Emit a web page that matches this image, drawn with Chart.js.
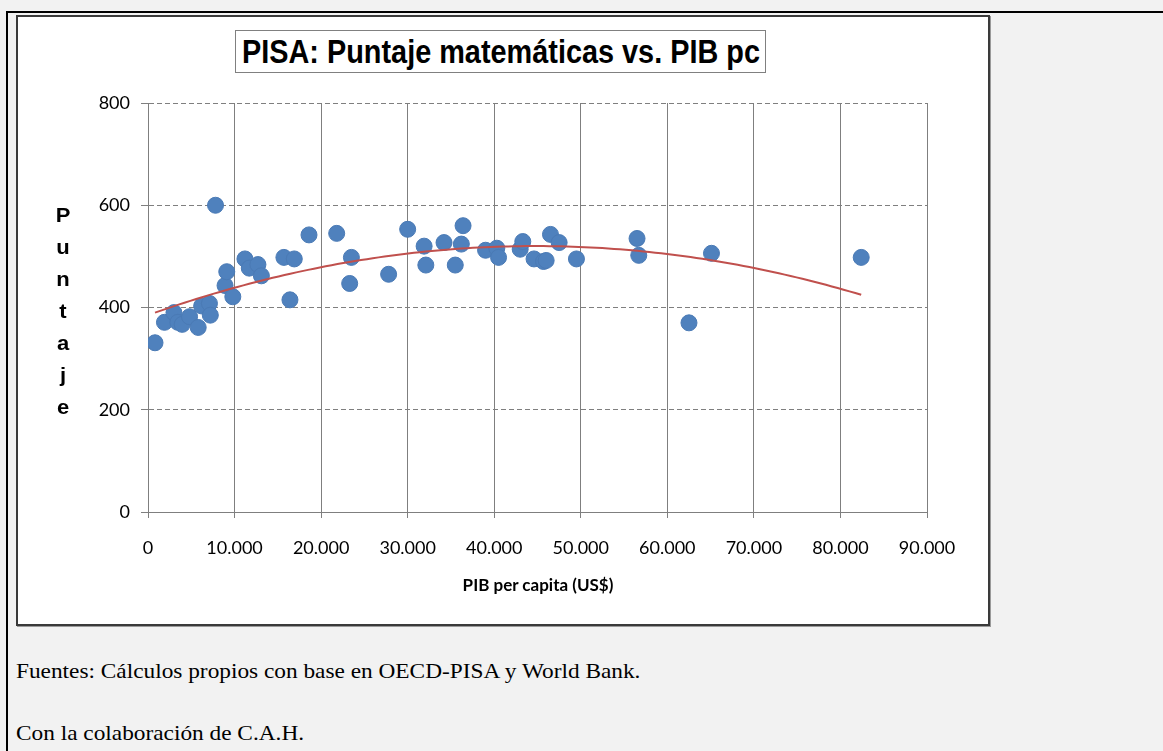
<!DOCTYPE html>
<html>
<head>
<meta charset="utf-8">
<script src="https://cdn.jsdelivr.net/npm/chart.js@4.4.1/dist/chart.umd.min.js"></script>
<style>
  html, body { margin: 0; padding: 0; }
  body { width: 1163px; height: 751px; background: #f2f2f2; position: relative; overflow: hidden; }
  #topline { position: absolute; left: 6px; top: 11px; width: 1157px; height: 2px; background: #000; }
  #leftline { position: absolute; left: 6px; top: 11px; width: 2px; height: 740px; background: #000; }
  #box { position: absolute; left: 16px; top: 15px; width: 970px; height: 607px; background: #fff;
         border: 2px solid #3a3a3a; box-shadow: 1px 1px 0 #9a9a9a; }
  #chartwrap { position: absolute; left: 0; top: 0; width: 970px; height: 607px; }
  #title { position: absolute; left: 217px; top: 13px; width: 531px; height: 43px; border: 1px solid #808080;
           box-sizing: border-box; background: #fff; }
  #titletext { position: absolute; left: 50%; top: 0; height: 41px; line-height: 41px;
           font-family: "Liberation Sans", Arial, sans-serif; font-weight: bold; font-size: 33px; color: #000;
           white-space: nowrap; transform-origin: 50% 50%; transform: translateX(-50%); }
  #ytitle { position: absolute; left: 32px; top: 182px; width: 26px; text-align: center;
            font-family: "Liberation Sans", Arial, sans-serif; font-weight: bold; font-size: 20px;
            line-height: 32px; color: #000; transform: scaleX(1.1); }
  #xtitle { position: absolute; left: 300px; top: 557px; width: 440px; text-align: center;
            font-family: Lato, "Open Sans", sans-serif; font-weight: bold; font-size: 17px; color: #000; }
  .foot { position: absolute; left: 16px; font-family: "Liberation Serif", "Times New Roman", serif;
          font-size: 21px; color: #000; white-space: nowrap; transform-origin: 0 50%; transform: scaleX(1.11); }
</style>
</head>
<body>
<div id="topline"></div>
<div id="leftline"></div>
<div id="box">
  <div id="chartwrap"><canvas id="c" width="970" height="607"></canvas></div>
  <div id="title"><div id="titletext">PISA: Puntaje matemáticas vs. PIB pc</div></div>
  <div id="ytitle">P<br>u<br>n<br>t<br>a<br>j<br>e</div>
  <div id="xtitle">PIB per capita (US$)</div>
</div>
<div class="foot" style="top:659px;">Fuentes: Cálculos propios con base en OECD-PISA y World Bank.</div>
<div class="foot" style="top:721px;">Con la colaboración de C.A.H.</div>
<script>
// PIB per capita (US$) por país
const pibPc = [810, 1900, 3000, 3450, 3950, 4800, 5800, 6200, 7100, 7200,
               7800, 8900, 9100, 9800, 11200, 11700, 12700, 13100, 15700, 16400,
               16900, 18600, 21800, 23300, 23500, 27800, 30000, 31900, 32100, 34200,
               35500, 36200, 36400, 39000, 40300, 40500, 43000, 43300, 44600, 45700,
               46000, 46500, 47500, 49500, 56500, 56700, 62500, 65100, 82400];
// Puntaje PISA matemáticas
const puntaje = [331, 371, 390, 371, 367, 382, 361, 403, 408, 385,
                 600, 443, 470, 421, 495, 477, 484, 462, 498, 415,
                 495, 542, 545, 447, 498, 465, 553, 520, 483, 527,
                 483, 524, 560, 512, 516, 498, 514, 529, 495, 490,
                 492, 543, 527, 495, 535, 502, 370, 506, 498];
const xTicks = [0, 10000, 20000, 30000, 40000, 50000, 60000, 70000, 80000, 90000];
const yTicks = [0, 200, 400, 600, 800];

const points = pibPc.map((x, i) => ({ x: x, y: puntaje[i] }));

// Polynomial (order 2) least-squares trendline from the data, as the spreadsheet does
function quadFit(xs, ys) {
  const s = xs.map(v => v / 1000);
  let S = [0, 0, 0, 0, 0], T = [0, 0, 0];
  for (let i = 0; i < s.length; i++) {
    let p = 1;
    for (let k = 0; k < 5; k++) { S[k] += p; if (k < 3) T[k] += p * ys[i]; p *= s[i]; }
  }
  const M = [[S[0], S[1], S[2], T[0]], [S[1], S[2], S[3], T[1]], [S[2], S[3], S[4], T[2]]];
  for (let c = 0; c < 3; c++) {
    for (let r = c + 1; r < 3; r++) {
      const f = M[r][c] / M[c][c];
      for (let k = c; k < 4; k++) M[r][k] -= f * M[c][k];
    }
  }
  const b = [0, 0, 0];
  for (let r = 2; r >= 0; r--) {
    let v = M[r][3];
    for (let k = r + 1; k < 3; k++) v -= M[r][k] * b[k];
    b[r] = v / M[r][r];
  }
  return b;
}
const coef = quadFit(pibPc, puntaje);
const xMin = Math.min(...pibPc), xMax = Math.max(...pibPc);
const trend = [];
for (let i = 0; i <= 120; i++) {
  const xv = xMin + (xMax - xMin) * i / 120;
  const s = xv / 1000;
  trend.push({ x: xv, y: coef[0] + coef[1] * s + coef[2] * s * s });
}

function fmtThousands(v) {
  return String(v).replace(/\B(?=(\d{3})+(?!\d))/g, '.');
}

// fit the title text into the reference width (condensed look)
(function () {
  const t = document.getElementById('titletext');
  const w = t.getBoundingClientRect().width;
  if (w > 0) t.style.transform = 'translateX(-50%) scaleX(' + (518 / w).toFixed(4) + ')';
})();

const tickFont = { family: 'Lato, "Open Sans", sans-serif', size: 18 };

new Chart(document.getElementById('c'), {
  type: 'scatter',
  data: {
    datasets: [
      {
        label: 'Tendencia',
        data: trend,
        showLine: true,
        borderColor: '#c0504d',
        borderWidth: 2,
        pointRadius: 0,
        fill: false,
        order: 0
      },
      {
        label: 'Puntaje',
        data: points,
        backgroundColor: '#4f81bd',
        borderColor: '#4a7ab5',
        borderWidth: 1,
        pointRadius: 8,
        order: 1
      }
    ]
  },
  options: {
    responsive: false,
    animation: false,
    events: [],
    layout: { padding: { left: 0, right: 61, top: 86, bottom: 0 } },
    plugins: { legend: { display: false }, tooltip: { enabled: false }, title: { display: false } },
    scales: {
      x: {
        type: 'linear',
        min: 0, max: 90000,
        afterBuildTicks: (scale) => { scale.ticks = xTicks.map(v => ({ value: v })); },
        afterFit: (scale) => { scale.height = 112; },
        ticks: {
          callback: (v) => fmtThousands(v),
          font: tickFont, color: '#000', padding: 19, maxRotation: 0, autoSkip: false
        },
        grid: { color: '#7f7f7f', lineWidth: 1, tickLength: 6 },
        border: { color: '#7f7f7f', width: 1 }
      },
      y: {
        type: 'linear',
        min: 0, max: 800,
        afterBuildTicks: (scale) => { scale.ticks = yTicks.map(v => ({ value: v })); },
        afterFit: (scale) => { scale.width = 130; },
        ticks: { font: tickFont, color: '#000', padding: 11 },
        grid: { color: '#7f7f7f', lineWidth: 1, tickLength: 7, tickBorderDash: [] },
        border: { color: '#7f7f7f', width: 1, dash: [5, 3] }
      }
    }
  }
});
</script>
</body>
</html>
